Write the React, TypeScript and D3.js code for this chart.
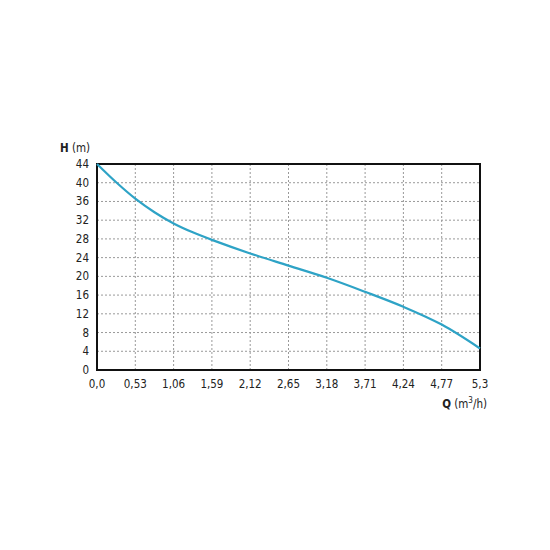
import React, { useEffect, useRef } from "react";
import * as d3 from "d3";

const flowTicks = [0, 0.53, 1.06, 1.59, 2.12, 2.65, 3.18, 3.71, 4.24, 4.77, 5.3];
const headTicks = [0, 4, 8, 12, 16, 20, 24, 28, 32, 36, 40, 44];

// curve, Q (m3/h) vs H (m)
const qValues = [0, 0.265, 0.53, 0.795, 1.06, 1.325, 1.59, 2.12, 2.65, 3.18, 3.71, 4.24, 4.77, 5.3];
const hValues = [44, 40.1, 36.6, 33.7, 31.3, 29.4, 27.8, 24.9, 22.3, 19.7, 16.7, 13.5, 9.7, 4.6];

const fmt = (v: number) => (v === 0 ? "0,0" : String(v).replace(".", ","));

const App: React.FC = () => {
  const svgRef = useRef<SVGSVGElement | null>(null);

  useEffect(() => {
    if (!svgRef.current) return;
    const svg = d3.select(svgRef.current);
    svg.selectAll("*").remove();

    const width = 550;
    const height = 550;
    const margin = { top: 164, right: 70, bottom: 180, left: 97 };
    const innerWidth = width - margin.left - margin.right;
    const innerHeight = height - margin.top - margin.bottom;
    const font = "'DejaVu Sans Condensed', 'DejaVu Sans', sans-serif";
    const fs = 11.5;

    svg.attr("width", width).attr("height", height);
    svg.append("rect").attr("width", width).attr("height", height).attr("fill", "#fff");

    const g = svg
      .append("g")
      .attr("transform", `translate(${margin.left},${margin.top})`);

    const x = d3.scaleLinear().domain([0, 5.3]).range([0, innerWidth]);
    const y = d3.scaleLinear().domain([0, 44]).range([innerHeight, 0]);

    // grid
    g.append("g")
      .selectAll("line")
      .data(flowTicks.slice(1, -1))
      .enter()
      .append("line")
      .attr("x1", (d) => x(d))
      .attr("x2", (d) => x(d))
      .attr("y1", 0)
      .attr("y2", innerHeight)
      .attr("stroke", "#999")
      .attr("stroke-width", 1)
      .attr("stroke-dasharray", "2,2");
    g.append("g")
      .selectAll("line")
      .data(headTicks.slice(1, -1))
      .enter()
      .append("line")
      .attr("x1", 0)
      .attr("x2", innerWidth)
      .attr("y1", (d) => y(d))
      .attr("y2", (d) => y(d))
      .attr("stroke", "#999")
      .attr("stroke-width", 1)
      .attr("stroke-dasharray", "2,2");

    // frame
    g.append("rect")
      .attr("width", innerWidth)
      .attr("height", innerHeight)
      .attr("fill", "none")
      .attr("stroke", "#111")
      .attr("stroke-width", 2);

    // tick labels
    g.append("g")
      .selectAll("text")
      .data(flowTicks)
      .enter()
      .append("text")
      .attr("x", (d) => x(d))
      .attr("y", innerHeight + 18)
      .attr("text-anchor", "middle")
      .attr("font-family", font)
      .attr("font-size", fs)
      .attr("fill", "#222")
      .text((d) => fmt(d));
    g.append("g")
      .selectAll("text")
      .data(headTicks)
      .enter()
      .append("text")
      .attr("x", -8)
      .attr("y", (d) => y(d) + 4)
      .attr("text-anchor", "end")
      .attr("font-family", font)
      .attr("font-size", fs)
      .attr("fill", "#222")
      .text((d) => String(d));

    // axis titles
    const hTitle = g
      .append("text")
      .attr("x", -37)
      .attr("y", -12)
      .attr("font-family", font)
      .attr("font-size", fs)
      .attr("fill", "#222");
    hTitle.append("tspan").attr("font-weight", "bold").text("H");
    hTitle.append("tspan").text(" (m)");

    const qTitle = g
      .append("text")
      .attr("x", innerWidth + 7)
      .attr("y", innerHeight + 38)
      .attr("text-anchor", "end")
      .attr("font-family", font)
      .attr("font-size", fs)
      .attr("fill", "#222");
    qTitle.append("tspan").attr("font-weight", "bold").text("Q");
    qTitle.append("tspan").text(" (m");
    qTitle.append("tspan").attr("font-size", 8).attr("dy", -5).text("3");
    qTitle.append("tspan").attr("dy", 5).text("/h)");

    // pump curve
    const points = qValues.map((q, i) => ({ q, h: hValues[i] }));
    const line = d3
      .line<{ q: number; h: number }>()
      .x((d) => x(d.q))
      .y((d) => y(d.h))
      .curve(d3.curveCatmullRom.alpha(0.5));
    g.append("path")
      .datum(points)
      .attr("fill", "none")
      .attr("stroke", "#2ea3c6")
      .attr("stroke-width", 2.2)
      .attr("d", line);
  }, []);

  return (
    <svg
      ref={svgRef}
      style={{ position: "absolute", left: 0, top: 0, display: "block" }}
    ></svg>
  );
};

export default App;
